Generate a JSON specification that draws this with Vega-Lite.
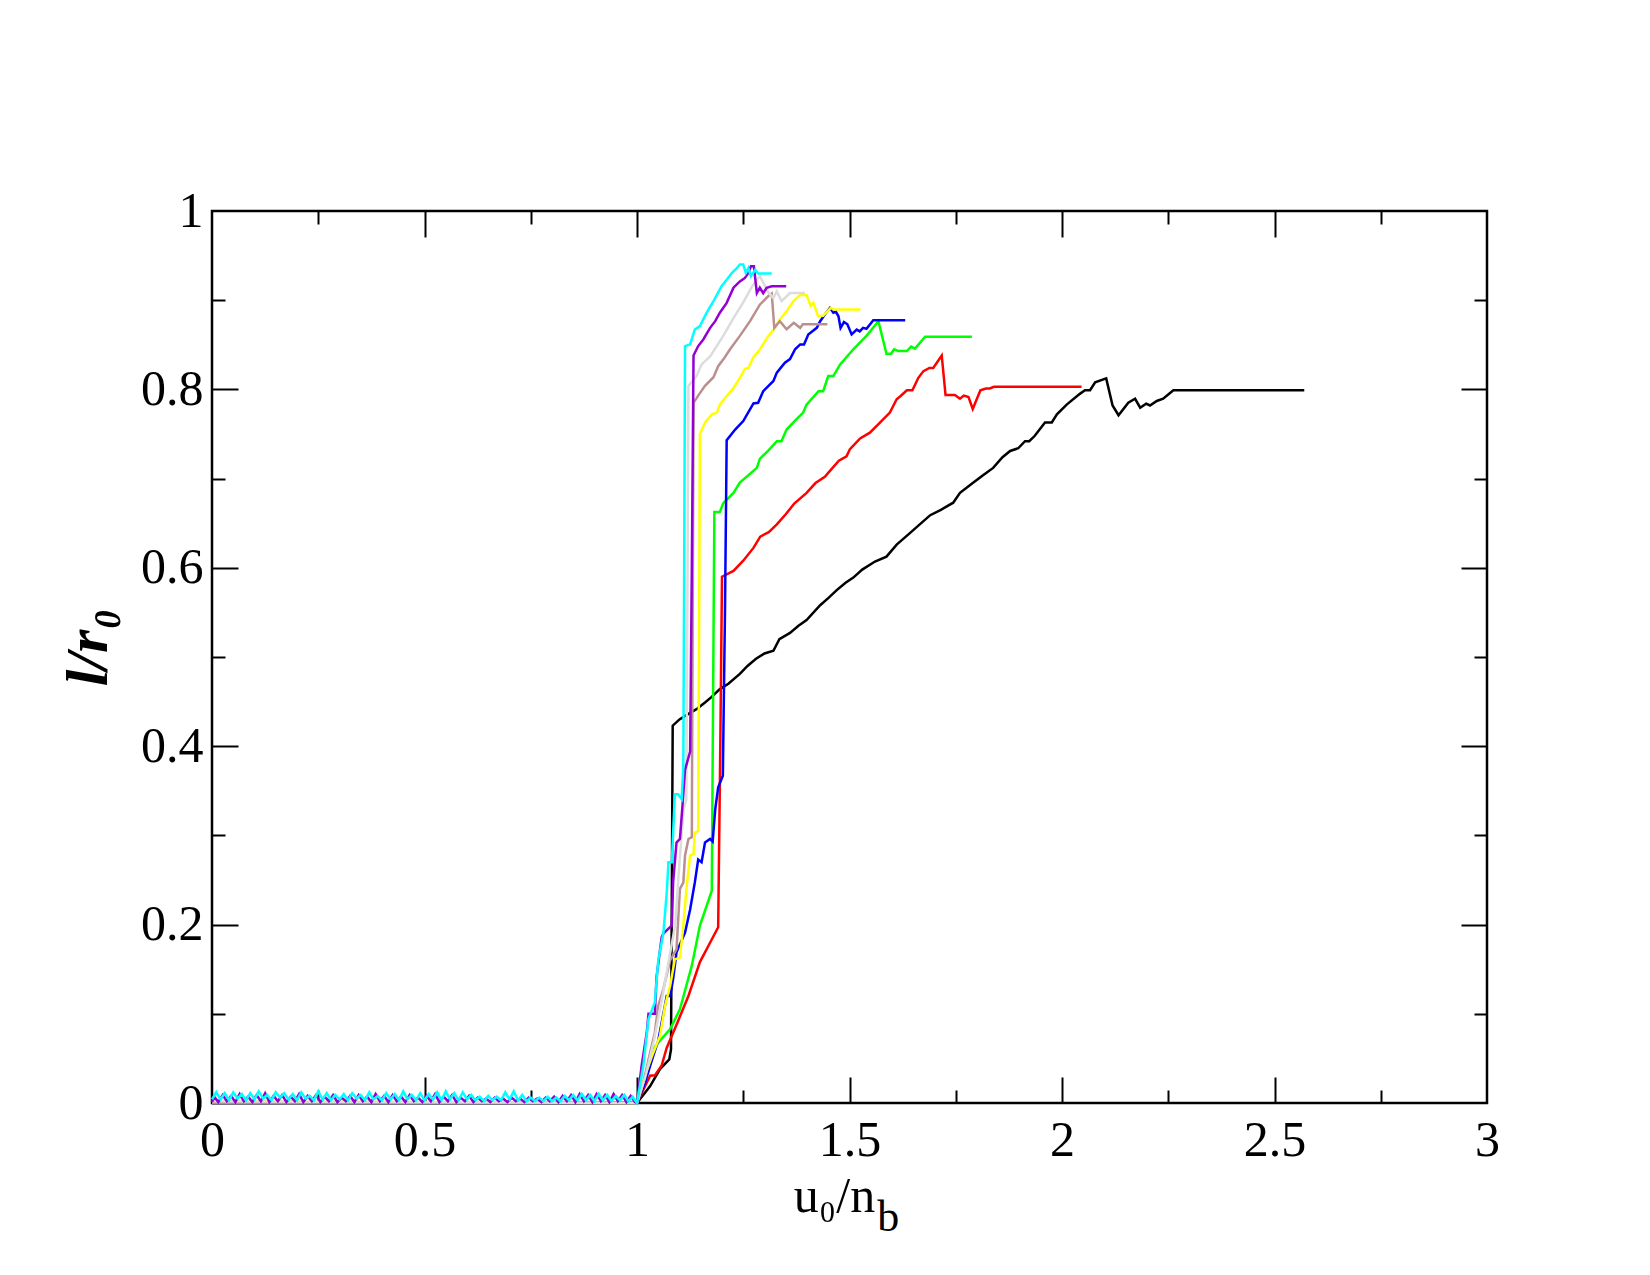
{
  "$schema": "https://vega.github.io/schema/vega-lite/v6.json",
  "width": 1275,
  "height": 892,
  "autosize": {"type": "none"},
  "padding": {"left": 212, "top": 211, "right": 163, "bottom": 172},
  "background": "white",
  "config": {
    "view": {"stroke": "black", "strokeWidth": 2.5},
    "axis": {"grid": false, "domain": false, "labelFont": "Liberation Serif", "titleFont": "Liberation Serif", "labelColor": "black", "titleColor": "black", "tickColor": "black"}
  },
  "datasets": {
    "pt": [{"x": 0, "y": 0}],
    "lines": [
      {"s":"s1","x":0,"y":0},{"s":"s1","x":1.0,"y":0},{"s":"s1","x":1.031,"y":0.019},{"s":"s1","x":1.054,"y":0.038},{"s":"s1","x":1.076,"y":0.049},{"s":"s1","x":1.08,"y":0.06},{"s":"s1","x":1.084,"y":0.423},{"s":"s1","x":1.10,"y":0.43},{"s":"s1","x":1.12,"y":0.436},{"s":"s1","x":1.14,"y":0.4415},{"s":"s1","x":1.16,"y":0.449},{"s":"s1","x":1.175,"y":0.455},{"s":"s1","x":1.195,"y":0.464},{"s":"s1","x":1.215,"y":0.47},{"s":"s1","x":1.242,"y":0.481},{"s":"s1","x":1.26,"y":0.49},{"s":"s1","x":1.28,"y":0.498},{"s":"s1","x":1.30,"y":0.504},{"s":"s1","x":1.321,"y":0.507},{"s":"s1","x":1.335,"y":0.52},{"s":"s1","x":1.36,"y":0.527},{"s":"s1","x":1.38,"y":0.535},{"s":"s1","x":1.399,"y":0.5415},{"s":"s1","x":1.431,"y":0.558},{"s":"s1","x":1.45,"y":0.566},{"s":"s1","x":1.47,"y":0.575},{"s":"s1","x":1.49,"y":0.583},{"s":"s1","x":1.509,"y":0.589},{"s":"s1","x":1.53,"y":0.598},{"s":"s1","x":1.56,"y":0.607},{"s":"s1","x":1.587,"y":0.6125},{"s":"s1","x":1.611,"y":0.626},{"s":"s1","x":1.64,"y":0.638},{"s":"s1","x":1.666,"y":0.649},{"s":"s1","x":1.69,"y":0.659},{"s":"s1","x":1.715,"y":0.665},{"s":"s1","x":1.744,"y":0.673},{"s":"s1","x":1.76,"y":0.684},{"s":"s1","x":1.79,"y":0.695},{"s":"s1","x":1.815,"y":0.704},{"s":"s1","x":1.838,"y":0.712},{"s":"s1","x":1.86,"y":0.724},{"s":"s1","x":1.878,"y":0.731},{"s":"s1","x":1.897,"y":0.734},{"s":"s1","x":1.913,"y":0.742},{"s":"s1","x":1.923,"y":0.742},{"s":"s1","x":1.936,"y":0.748},{"s":"s1","x":1.96,"y":0.763},{"s":"s1","x":1.976,"y":0.763},{"s":"s1","x":1.988,"y":0.772},{"s":"s1","x":2.011,"y":0.783},{"s":"s1","x":2.042,"y":0.795},{"s":"s1","x":2.054,"y":0.799},{"s":"s1","x":2.066,"y":0.799},{"s":"s1","x":2.078,"y":0.808},{"s":"s1","x":2.104,"y":0.8123},{"s":"s1","x":2.119,"y":0.782},{"s":"s1","x":2.133,"y":0.771},{"s":"s1","x":2.156,"y":0.785},{"s":"s1","x":2.172,"y":0.7895},{"s":"s1","x":2.184,"y":0.7795},{"s":"s1","x":2.198,"y":0.784},{"s":"s1","x":2.207,"y":0.782},{"s":"s1","x":2.223,"y":0.787},{"s":"s1","x":2.238,"y":0.7895},{"s":"s1","x":2.262,"y":0.799},{"s":"s1","x":2.57,"y":0.799},

      {"s":"s2","x":0,"y":0},{"s":"s2","x":1.0,"y":0},{"s":"s2","x":1.02,"y":0.02},{"s":"s2","x":1.031,"y":0.0306},{"s":"s2","x":1.042,"y":0.031},{"s":"s2","x":1.058,"y":0.042},{"s":"s2","x":1.07,"y":0.062},{"s":"s2","x":1.095,"y":0.09},{"s":"s2","x":1.121,"y":0.12},{"s":"s2","x":1.148,"y":0.158},{"s":"s2","x":1.17,"y":0.178},{"s":"s2","x":1.191,"y":0.197},{"s":"s2","x":1.196,"y":0.4},{"s":"s2","x":1.2,"y":0.59},{"s":"s2","x":1.227,"y":0.5965},{"s":"s2","x":1.25,"y":0.608},{"s":"s2","x":1.274,"y":0.6223},{"s":"s2","x":1.29,"y":0.635},{"s":"s2","x":1.31,"y":0.64},{"s":"s2","x":1.329,"y":0.6487},{"s":"s2","x":1.35,"y":0.66},{"s":"s2","x":1.37,"y":0.672},{"s":"s2","x":1.399,"y":0.684},{"s":"s2","x":1.42,"y":0.695},{"s":"s2","x":1.442,"y":0.702},{"s":"s2","x":1.454,"y":0.7086},{"s":"s2","x":1.475,"y":0.72},{"s":"s2","x":1.493,"y":0.725},{"s":"s2","x":1.501,"y":0.733},{"s":"s2","x":1.525,"y":0.745},{"s":"s2","x":1.548,"y":0.7515},{"s":"s2","x":1.57,"y":0.762},{"s":"s2","x":1.595,"y":0.774},{"s":"s2","x":1.611,"y":0.789},{"s":"s2","x":1.619,"y":0.792},{"s":"s2","x":1.635,"y":0.799},{"s":"s2","x":1.648,"y":0.799},{"s":"s2","x":1.662,"y":0.813},{"s":"s2","x":1.674,"y":0.8205},{"s":"s2","x":1.688,"y":0.824},{"s":"s2","x":1.697,"y":0.824},{"s":"s2","x":1.717,"y":0.838},{"s":"s2","x":1.726,"y":0.7936},{"s":"s2","x":1.748,"y":0.7936},{"s":"s2","x":1.76,"y":0.7895},{"s":"s2","x":1.769,"y":0.793},{"s":"s2","x":1.78,"y":0.7915},{"s":"s2","x":1.79,"y":0.778},{"s":"s2","x":1.808,"y":0.799},{"s":"s2","x":1.821,"y":0.801},{"s":"s2","x":1.83,"y":0.801},{"s":"s2","x":1.84,"y":0.803},{"s":"s2","x":2.046,"y":0.803},

      {"s":"s3","x":0,"y":0},{"s":"s3","x":1.0,"y":0},{"s":"s3","x":1.015,"y":0.023},{"s":"s3","x":1.038,"y":0.0605},{"s":"s3","x":1.058,"y":0.072},{"s":"s3","x":1.078,"y":0.083},{"s":"s3","x":1.101,"y":0.105},{"s":"s3","x":1.129,"y":0.154},{"s":"s3","x":1.148,"y":0.199},{"s":"s3","x":1.176,"y":0.238},{"s":"s3","x":1.179,"y":0.45},{"s":"s3","x":1.182,"y":0.6626},{"s":"s3","x":1.195,"y":0.6626},{"s":"s3","x":1.203,"y":0.6725},{"s":"s3","x":1.227,"y":0.684},{"s":"s3","x":1.242,"y":0.6955},{"s":"s3","x":1.265,"y":0.705},{"s":"s3","x":1.282,"y":0.712},{"s":"s3","x":1.289,"y":0.722},{"s":"s3","x":1.31,"y":0.732},{"s":"s3","x":1.329,"y":0.742},{"s":"s3","x":1.34,"y":0.742},{"s":"s3","x":1.352,"y":0.755},{"s":"s3","x":1.372,"y":0.765},{"s":"s3","x":1.391,"y":0.774},{"s":"s3","x":1.399,"y":0.783},{"s":"s3","x":1.427,"y":0.798},{"s":"s3","x":1.438,"y":0.798},{"s":"s3","x":1.45,"y":0.815},{"s":"s3","x":1.462,"y":0.815},{"s":"s3","x":1.478,"y":0.828},{"s":"s3","x":1.509,"y":0.845},{"s":"s3","x":1.54,"y":0.86},{"s":"s3","x":1.568,"y":0.8765},{"s":"s3","x":1.587,"y":0.84},{"s":"s3","x":1.598,"y":0.84},{"s":"s3","x":1.605,"y":0.845},{"s":"s3","x":1.615,"y":0.843},{"s":"s3","x":1.635,"y":0.843},{"s":"s3","x":1.645,"y":0.848},{"s":"s3","x":1.654,"y":0.8457},{"s":"s3","x":1.678,"y":0.859},{"s":"s3","x":1.788,"y":0.859},

      {"s":"s4","x":0,"y":0},{"s":"s4","x":1.0,"y":0},{"s":"s4","x":1.019,"y":0.023},{"s":"s4","x":1.031,"y":0.042},{"s":"s4","x":1.05,"y":0.07},{"s":"s4","x":1.07,"y":0.12},{"s":"s4","x":1.078,"y":0.12},{"s":"s4","x":1.085,"y":0.139},{"s":"s4","x":1.093,"y":0.169},{"s":"s4","x":1.113,"y":0.191},{"s":"s4","x":1.125,"y":0.217},{"s":"s4","x":1.136,"y":0.247},{"s":"s4","x":1.144,"y":0.273},{"s":"s4","x":1.152,"y":0.27},{"s":"s4","x":1.16,"y":0.292},{"s":"s4","x":1.172,"y":0.296},{"s":"s4","x":1.178,"y":0.293},{"s":"s4","x":1.184,"y":0.329},{"s":"s4","x":1.191,"y":0.354},{"s":"s4","x":1.202,"y":0.367},{"s":"s4","x":1.207,"y":0.55},{"s":"s4","x":1.211,"y":0.743},{"s":"s4","x":1.231,"y":0.755},{"s":"s4","x":1.25,"y":0.7645},{"s":"s4","x":1.274,"y":0.7843},{"s":"s4","x":1.285,"y":0.785},{"s":"s4","x":1.297,"y":0.798},{"s":"s4","x":1.321,"y":0.8095},{"s":"s4","x":1.329,"y":0.8188},{"s":"s4","x":1.348,"y":0.83},{"s":"s4","x":1.36,"y":0.834},{"s":"s4","x":1.372,"y":0.845},{"s":"s4","x":1.384,"y":0.8504},{"s":"s4","x":1.393,"y":0.8504},{"s":"s4","x":1.403,"y":0.8616},{"s":"s4","x":1.423,"y":0.869},{"s":"s4","x":1.431,"y":0.8765},{"s":"s4","x":1.442,"y":0.884},{"s":"s4","x":1.454,"y":0.8915},{"s":"s4","x":1.462,"y":0.886},{"s":"s4","x":1.468,"y":0.887},{"s":"s4","x":1.474,"y":0.882},{"s":"s4","x":1.479,"y":0.869},{"s":"s4","x":1.487,"y":0.8755},{"s":"s4","x":1.495,"y":0.873},{"s":"s4","x":1.505,"y":0.8616},{"s":"s4","x":1.517,"y":0.867},{"s":"s4","x":1.524,"y":0.865},{"s":"s4","x":1.532,"y":0.869},{"s":"s4","x":1.54,"y":0.868},{"s":"s4","x":1.556,"y":0.8776},{"s":"s4","x":1.631,"y":0.8776},

      {"s":"s5","x":0,"y":0.002},{"s":"s5","x":1.0,"y":0},{"s":"s5","x":1.019,"y":0.031},{"s":"s5","x":1.034,"y":0.051},{"s":"s5","x":1.054,"y":0.075},{"s":"s5","x":1.066,"y":0.109},{"s":"s5","x":1.078,"y":0.1315},{"s":"s5","x":1.089,"y":0.161},{"s":"s5","x":1.101,"y":0.163},{"s":"s5","x":1.109,"y":0.199},{"s":"s5","x":1.117,"y":0.2435},{"s":"s5","x":1.125,"y":0.2775},{"s":"s5","x":1.133,"y":0.279},{"s":"s5","x":1.136,"y":0.303},{"s":"s5","x":1.144,"y":0.305},{"s":"s5","x":1.146,"y":0.5},{"s":"s5","x":1.148,"y":0.7496},{"s":"s5","x":1.16,"y":0.7627},{"s":"s5","x":1.176,"y":0.772},{"s":"s5","x":1.188,"y":0.774},{"s":"s5","x":1.195,"y":0.783},{"s":"s5","x":1.211,"y":0.7925},{"s":"s5","x":1.225,"y":0.80},{"s":"s5","x":1.242,"y":0.813},{"s":"s5","x":1.254,"y":0.823},{"s":"s5","x":1.262,"y":0.824},{"s":"s5","x":1.274,"y":0.836},{"s":"s5","x":1.289,"y":0.8448},{"s":"s5","x":1.309,"y":0.86},{"s":"s5","x":1.325,"y":0.869},{"s":"s5","x":1.336,"y":0.878},{"s":"s5","x":1.352,"y":0.8877},{"s":"s5","x":1.368,"y":0.899},{"s":"s5","x":1.384,"y":0.9057},{"s":"s5","x":1.399,"y":0.9057},{"s":"s5","x":1.409,"y":0.8935},{"s":"s5","x":1.415,"y":0.897},{"s":"s5","x":1.426,"y":0.882},{"s":"s5","x":1.438,"y":0.8826},{"s":"s5","x":1.456,"y":0.8915},{"s":"s5","x":1.462,"y":0.8896},{"s":"s5","x":1.526,"y":0.8896},

      {"s":"s6","x":0,"y":0},{"s":"s6","x":1.0,"y":0},{"s":"s6","x":1.015,"y":0.023},{"s":"s6","x":1.031,"y":0.057},{"s":"s6","x":1.042,"y":0.079},{"s":"s6","x":1.05,"y":0.109},{"s":"s6","x":1.062,"y":0.1277},{"s":"s6","x":1.078,"y":0.16},{"s":"s6","x":1.093,"y":0.1725},{"s":"s6","x":1.101,"y":0.24},{"s":"s6","x":1.109,"y":0.247},{"s":"s6","x":1.113,"y":0.2775},{"s":"s6","x":1.121,"y":0.296},{"s":"s6","x":1.129,"y":0.298},{"s":"s6","x":1.131,"y":0.55},{"s":"s6","x":1.133,"y":0.785},{"s":"s6","x":1.144,"y":0.793},{"s":"s6","x":1.16,"y":0.804},{"s":"s6","x":1.18,"y":0.8137},{"s":"s6","x":1.191,"y":0.826},{"s":"s6","x":1.205,"y":0.835},{"s":"s6","x":1.219,"y":0.845},{"s":"s6","x":1.242,"y":0.86},{"s":"s6","x":1.266,"y":0.8765},{"s":"s6","x":1.289,"y":0.895},{"s":"s6","x":1.309,"y":0.9047},{"s":"s6","x":1.317,"y":0.9075},{"s":"s6","x":1.323,"y":0.869},{"s":"s6","x":1.336,"y":0.8765},{"s":"s6","x":1.352,"y":0.8675},{"s":"s6","x":1.369,"y":0.8747},{"s":"s6","x":1.384,"y":0.869},{"s":"s6","x":1.39,"y":0.873},{"s":"s6","x":1.448,"y":0.873},

      {"s":"s7","x":0,"y":0.002},{"s":"s7","x":1.0,"y":0},{"s":"s7","x":1.02,"y":0.03},{"s":"s7","x":1.04,"y":0.07},{"s":"s7","x":1.06,"y":0.12},{"s":"s7","x":1.075,"y":0.16},{"s":"s7","x":1.09,"y":0.2},{"s":"s7","x":1.1,"y":0.27},{"s":"s7","x":1.11,"y":0.33},{"s":"s7","x":1.116,"y":0.34},{"s":"s7","x":1.119,"y":0.6},{"s":"s7","x":1.121,"y":0.804},{"s":"s7","x":1.14,"y":0.815},{"s":"s7","x":1.152,"y":0.828},{"s":"s7","x":1.172,"y":0.837},{"s":"s7","x":1.203,"y":0.86},{"s":"s7","x":1.227,"y":0.88},{"s":"s7","x":1.25,"y":0.8976},{"s":"s7","x":1.27,"y":0.915},{"s":"s7","x":1.289,"y":0.927},{"s":"s7","x":1.297,"y":0.9195},{"s":"s7","x":1.309,"y":0.9087},{"s":"s7","x":1.321,"y":0.9025},{"s":"s7","x":1.329,"y":0.91},{"s":"s7","x":1.34,"y":0.899},{"s":"s7","x":1.36,"y":0.908},{"s":"s7","x":1.395,"y":0.908},

      {"s":"s8","x":0,"y":0.001},{"s":"s8","x":0.005,"y":0.007},{"s":"s8","x":0.015,"y":0.001},{"s":"s8","x":0.025,"y":0.009},{"s":"s8","x":0.035,"y":0.002},{"s":"s8","x":0.045,"y":0.008},{"s":"s8","x":0.055,"y":0.001},{"s":"s8","x":0.065,"y":0.010},{"s":"s8","x":0.075,"y":0.002},{"s":"s8","x":0.085,"y":0.007},{"s":"s8","x":0.095,"y":0.001},{"s":"s8","x":0.105,"y":0.009},{"s":"s8","x":0.115,"y":0.002},{"s":"s8","x":0.125,"y":0.011},{"s":"s8","x":0.135,"y":0.001},{"s":"s8","x":0.145,"y":0.008},{"s":"s8","x":0.155,"y":0.002},{"s":"s8","x":0.165,"y":0.009},{"s":"s8","x":0.175,"y":0.001},{"s":"s8","x":0.185,"y":0.007},{"s":"s8","x":0.195,"y":0.002},{"s":"s8","x":0.205,"y":0.010},{"s":"s8","x":0.215,"y":0.001},{"s":"s8","x":0.225,"y":0.008},{"s":"s8","x":0.235,"y":0.002},{"s":"s8","x":0.245,"y":0.009},{"s":"s8","x":0.255,"y":0.001},{"s":"s8","x":0.265,"y":0.007},{"s":"s8","x":0.275,"y":0.002},{"s":"s8","x":0.285,"y":0.009},{"s":"s8","x":0.295,"y":0.001},{"s":"s8","x":0.305,"y":0.006},{"s":"s8","x":0.315,"y":0.002},{"s":"s8","x":0.325,"y":0.008},{"s":"s8","x":0.335,"y":0.001},{"s":"s8","x":0.345,"y":0.009},{"s":"s8","x":0.355,"y":0.002},{"s":"s8","x":0.365,"y":0.007},{"s":"s8","x":0.375,"y":0.001},{"s":"s8","x":0.385,"y":0.010},{"s":"s8","x":0.395,"y":0.002},{"s":"s8","x":0.405,"y":0.008},{"s":"s8","x":0.415,"y":0.001},{"s":"s8","x":0.425,"y":0.009},{"s":"s8","x":0.435,"y":0.002},{"s":"s8","x":0.445,"y":0.007},{"s":"s8","x":0.455,"y":0.001},{"s":"s8","x":0.465,"y":0.009},{"s":"s8","x":0.475,"y":0.002},{"s":"s8","x":0.485,"y":0.006},{"s":"s8","x":0.495,"y":0.001},{"s":"s8","x":0.505,"y":0.008},{"s":"s8","x":0.515,"y":0.002},{"s":"s8","x":0.525,"y":0.010},{"s":"s8","x":0.535,"y":0.001},{"s":"s8","x":0.545,"y":0.007},{"s":"s8","x":0.555,"y":0.002},{"s":"s8","x":0.565,"y":0.009},{"s":"s8","x":0.575,"y":0.001},{"s":"s8","x":0.585,"y":0.006},{"s":"s8","x":0.595,"y":0.002},{"s":"s8","x":0.605,"y":0.008},{"s":"s8","x":0.615,"y":0.001},{"s":"s8","x":0.625,"y":0.006},{"s":"s8","x":0.635,"y":0.002},{"s":"s8","x":0.645,"y":0.005},{"s":"s8","x":0.655,"y":0.001},{"s":"s8","x":0.665,"y":0.006},{"s":"s8","x":0.675,"y":0.002},{"s":"s8","x":0.685,"y":0.005},{"s":"s8","x":0.695,"y":0.001},{"s":"s8","x":0.705,"y":0.006},{"s":"s8","x":0.715,"y":0.002},{"s":"s8","x":0.725,"y":0.005},{"s":"s8","x":0.735,"y":0.001},{"s":"s8","x":0.745,"y":0.006},{"s":"s8","x":0.755,"y":0.002},{"s":"s8","x":0.765,"y":0.005},{"s":"s8","x":0.775,"y":0.001},{"s":"s8","x":0.785,"y":0.006},{"s":"s8","x":0.795,"y":0.002},{"s":"s8","x":0.805,"y":0.007},{"s":"s8","x":0.815,"y":0.001},{"s":"s8","x":0.825,"y":0.008},{"s":"s8","x":0.835,"y":0.002},{"s":"s8","x":0.845,"y":0.009},{"s":"s8","x":0.855,"y":0.001},{"s":"s8","x":0.865,"y":0.010},{"s":"s8","x":0.875,"y":0.002},{"s":"s8","x":0.885,"y":0.009},{"s":"s8","x":0.895,"y":0.001},{"s":"s8","x":0.905,"y":0.010},{"s":"s8","x":0.915,"y":0.002},{"s":"s8","x":0.925,"y":0.009},{"s":"s8","x":0.935,"y":0.001},{"s":"s8","x":0.945,"y":0.010},{"s":"s8","x":0.955,"y":0.002},{"s":"s8","x":0.965,"y":0.009},{"s":"s8","x":0.975,"y":0.001},{"s":"s8","x":0.985,"y":0.008},{"s":"s8","x":0.995,"y":0.001},
      {"s":"s8","x":1.0,"y":0},{"s":"s8","x":1.011,"y":0.042},{"s":"s8","x":1.023,"y":0.079},{"s":"s8","x":1.027,"y":0.1},{"s":"s8","x":1.042,"y":0.1},{"s":"s8","x":1.046,"y":0.141},{"s":"s8","x":1.058,"y":0.1857},{"s":"s8","x":1.062,"y":0.19},{"s":"s8","x":1.082,"y":0.199},{"s":"s8","x":1.085,"y":0.2477},{"s":"s8","x":1.093,"y":0.292},{"s":"s8","x":1.101,"y":0.296},{"s":"s8","x":1.107,"y":0.333},{"s":"s8","x":1.113,"y":0.3735},{"s":"s8","x":1.125,"y":0.394},{"s":"s8","x":1.129,"y":0.6},{"s":"s8","x":1.133,"y":0.838},{"s":"s8","x":1.144,"y":0.8486},{"s":"s8","x":1.156,"y":0.856},{"s":"s8","x":1.172,"y":0.869},{"s":"s8","x":1.184,"y":0.8765},{"s":"s8","x":1.195,"y":0.886},{"s":"s8","x":1.211,"y":0.897},{"s":"s8","x":1.227,"y":0.914},{"s":"s8","x":1.242,"y":0.921},{"s":"s8","x":1.254,"y":0.925},{"s":"s8","x":1.262,"y":0.9305},{"s":"s8","x":1.268,"y":0.938},{"s":"s8","x":1.275,"y":0.938},{"s":"s8","x":1.282,"y":0.908},{"s":"s8","x":1.289,"y":0.914},{"s":"s8","x":1.297,"y":0.908},{"s":"s8","x":1.305,"y":0.914},{"s":"s8","x":1.317,"y":0.9157},{"s":"s8","x":1.351,"y":0.9157},

      {"s":"s9","x":0,"y":0.004},{"s":"s9","x":0.01,"y":0.012},{"s":"s9","x":0.02,"y":0.004},{"s":"s9","x":0.03,"y":0.011},{"s":"s9","x":0.04,"y":0.003},{"s":"s9","x":0.05,"y":0.012},{"s":"s9","x":0.06,"y":0.005},{"s":"s9","x":0.07,"y":0.010},{"s":"s9","x":0.08,"y":0.003},{"s":"s9","x":0.09,"y":0.011},{"s":"s9","x":0.10,"y":0.004},{"s":"s9","x":0.11,"y":0.013},{"s":"s9","x":0.12,"y":0.005},{"s":"s9","x":0.13,"y":0.009},{"s":"s9","x":0.14,"y":0.003},{"s":"s9","x":0.15,"y":0.012},{"s":"s9","x":0.16,"y":0.006},{"s":"s9","x":0.17,"y":0.011},{"s":"s9","x":0.18,"y":0.004},{"s":"s9","x":0.19,"y":0.010},{"s":"s9","x":0.20,"y":0.003},{"s":"s9","x":0.21,"y":0.012},{"s":"s9","x":0.22,"y":0.005},{"s":"s9","x":0.23,"y":0.008},{"s":"s9","x":0.24,"y":0.003},{"s":"s9","x":0.25,"y":0.013},{"s":"s9","x":0.26,"y":0.004},{"s":"s9","x":0.27,"y":0.011},{"s":"s9","x":0.28,"y":0.003},{"s":"s9","x":0.29,"y":0.009},{"s":"s9","x":0.30,"y":0.004},{"s":"s9","x":0.31,"y":0.010},{"s":"s9","x":0.32,"y":0.003},{"s":"s9","x":0.33,"y":0.011},{"s":"s9","x":0.34,"y":0.005},{"s":"s9","x":0.35,"y":0.009},{"s":"s9","x":0.36,"y":0.003},{"s":"s9","x":0.37,"y":0.012},{"s":"s9","x":0.38,"y":0.004},{"s":"s9","x":0.39,"y":0.008},{"s":"s9","x":0.40,"y":0.003},{"s":"s9","x":0.41,"y":0.011},{"s":"s9","x":0.42,"y":0.004},{"s":"s9","x":0.43,"y":0.010},{"s":"s9","x":0.44,"y":0.003},{"s":"s9","x":0.45,"y":0.013},{"s":"s9","x":0.46,"y":0.004},{"s":"s9","x":0.47,"y":0.009},{"s":"s9","x":0.48,"y":0.003},{"s":"s9","x":0.49,"y":0.011},{"s":"s9","x":0.50,"y":0.003},{"s":"s9","x":0.51,"y":0.010},{"s":"s9","x":0.52,"y":0.004},{"s":"s9","x":0.53,"y":0.012},{"s":"s9","x":0.54,"y":0.003},{"s":"s9","x":0.55,"y":0.013},{"s":"s9","x":0.56,"y":0.004},{"s":"s9","x":0.57,"y":0.011},{"s":"s9","x":0.58,"y":0.003},{"s":"s9","x":0.59,"y":0.012},{"s":"s9","x":0.60,"y":0.004},{"s":"s9","x":0.61,"y":0.009},{"s":"s9","x":0.62,"y":0.003},{"s":"s9","x":0.63,"y":0.007},{"s":"s9","x":0.64,"y":0.002},{"s":"s9","x":0.65,"y":0.008},{"s":"s9","x":0.66,"y":0.003},{"s":"s9","x":0.67,"y":0.007},{"s":"s9","x":0.68,"y":0.003},{"s":"s9","x":0.69,"y":0.012},{"s":"s9","x":0.70,"y":0.004},{"s":"s9","x":0.71,"y":0.013},{"s":"s9","x":0.72,"y":0.003},{"s":"s9","x":0.73,"y":0.009},{"s":"s9","x":0.74,"y":0.002},{"s":"s9","x":0.75,"y":0.006},{"s":"s9","x":0.76,"y":0.002},{"s":"s9","x":0.77,"y":0.006},{"s":"s9","x":0.78,"y":0.002},{"s":"s9","x":0.79,"y":0.007},{"s":"s9","x":0.80,"y":0.002},{"s":"s9","x":0.81,"y":0.006},{"s":"s9","x":0.82,"y":0.002},{"s":"s9","x":0.83,"y":0.008},{"s":"s9","x":0.84,"y":0.003},{"s":"s9","x":0.85,"y":0.009},{"s":"s9","x":0.86,"y":0.003},{"s":"s9","x":0.87,"y":0.010},{"s":"s9","x":0.88,"y":0.003},{"s":"s9","x":0.89,"y":0.009},{"s":"s9","x":0.90,"y":0.002},{"s":"s9","x":0.91,"y":0.010},{"s":"s9","x":0.92,"y":0.003},{"s":"s9","x":0.93,"y":0.009},{"s":"s9","x":0.94,"y":0.002},{"s":"s9","x":0.95,"y":0.008},{"s":"s9","x":0.96,"y":0.003},{"s":"s9","x":0.97,"y":0.009},{"s":"s9","x":0.98,"y":0.002},{"s":"s9","x":0.99,"y":0.007},
      {"s":"s9","x":1.0,"y":0},{"s":"s9","x":1.015,"y":0.042},{"s":"s9","x":1.027,"y":0.094},{"s":"s9","x":1.042,"y":0.1127},{"s":"s9","x":1.05,"y":0.16},{"s":"s9","x":1.062,"y":0.19},{"s":"s9","x":1.07,"y":0.236},{"s":"s9","x":1.074,"y":0.27},{"s":"s9","x":1.082,"y":0.27},{"s":"s9","x":1.089,"y":0.346},{"s":"s9","x":1.097,"y":0.346},{"s":"s9","x":1.105,"y":0.3406},{"s":"s9","x":1.109,"y":0.3755},{"s":"s9","x":1.111,"y":0.6},{"s":"s9","x":1.113,"y":0.8486},{"s":"s9","x":1.125,"y":0.8505},{"s":"s9","x":1.136,"y":0.867},{"s":"s9","x":1.148,"y":0.871},{"s":"s9","x":1.164,"y":0.886},{"s":"s9","x":1.18,"y":0.899},{"s":"s9","x":1.199,"y":0.9157},{"s":"s9","x":1.211,"y":0.923},{"s":"s9","x":1.223,"y":0.9305},{"s":"s9","x":1.235,"y":0.936},{"s":"s9","x":1.242,"y":0.94},{"s":"s9","x":1.25,"y":0.94},{"s":"s9","x":1.256,"y":0.9305},{"s":"s9","x":1.262,"y":0.936},{"s":"s9","x":1.268,"y":0.927},{"s":"s9","x":1.278,"y":0.934},{"s":"s9","x":1.285,"y":0.93},{"s":"s9","x":1.317,"y":0.93}
    ]
  },
  "resolve": {"axis": {"x": "independent", "y": "independent"}},
  "layer": [
    {
      "data": {"name": "lines"},
      "mark": {"type": "line", "strokeWidth": 2.5, "interpolate": "linear"},
      "encoding": {
        "x": {"field": "x", "type": "quantitative", "scale": {"domain": [0, 3], "nice": false, "zero": false},
          "axis": {"orient": "bottom", "values": [0, 0.5, 1, 1.5, 2, 2.5, 3], "format": "~g", "ticks": false, "labelPadding": 12, "labelFontSize": 50, "labelFlush": false,
            "title": "u₀/n", "titleFontSize": 50, "titleFontWeight": "normal", "titleX": 622, "titleY": 108, "titleBaseline": "alphabetic", "titleAlign": "center"}},
        "y": {"field": "y", "type": "quantitative", "scale": {"domain": [0, 1], "nice": false, "zero": false},
          "axis": {"orient": "left", "values": [0, 0.2, 0.4, 0.6, 0.8, 1], "format": "~g", "ticks": false, "labelPadding": 9, "labelFontSize": 50, "labelFlush": false,
            "title": "l/r₀", "titleFontSize": 60, "titleFontWeight": "bold", "titleFontStyle": "italic", "titleX": -106, "titleY": 436, "titleAngle": -90, "titleBaseline": "alphabetic", "titleAlign": "center"}},
        "color": {"field": "s", "type": "nominal", "legend": null,
          "scale": {"domain": ["s1","s2","s3","s4","s5","s6","s7","s8","s9"], "range": ["#000000","#ff0000","#00ff00","#0000ff","#ffff00","#bc8f8f","#dcdcdc","#9400d3","#00ffff"]}}
      }
    },
    {
      "data": {"name": "pt"},
      "mark": {"type": "point", "opacity": 0},
      "encoding": {
        "x": {"field": "x", "type": "quantitative", "scale": {"domain": [0, 3], "nice": false, "zero": false},
          "axis": {"orient": "bottom", "values": [0.5, 1, 1.5, 2, 2.5], "labels": false, "tickSize": -26, "tickWidth": 2, "title": null}},
        "y": {"field": "y", "type": "quantitative", "scale": {"domain": [0, 1], "nice": false, "zero": false},
          "axis": {"orient": "left", "values": [0.2, 0.4, 0.6, 0.8], "labels": false, "tickSize": -26, "tickWidth": 2, "title": null}}
      }
    },
    {
      "data": {"name": "pt"},
      "mark": {"type": "point", "opacity": 0},
      "encoding": {
        "x": {"field": "x", "type": "quantitative", "scale": {"domain": [0, 3], "nice": false, "zero": false},
          "axis": {"orient": "bottom", "values": [0.25, 0.75, 1.25, 1.75, 2.25, 2.75], "labels": false, "tickSize": -13, "tickWidth": 2, "title": null}},
        "y": {"field": "y", "type": "quantitative", "scale": {"domain": [0, 1], "nice": false, "zero": false},
          "axis": {"orient": "left", "values": [0.1, 0.3, 0.5, 0.7, 0.9], "labels": false, "tickSize": -13, "tickWidth": 2, "title": null}}
      }
    },
    {
      "data": {"name": "pt"},
      "mark": {"type": "point", "opacity": 0},
      "encoding": {
        "x": {"field": "x", "type": "quantitative", "scale": {"domain": [0, 3], "nice": false, "zero": false},
          "axis": {"orient": "top", "values": [0.5, 1, 1.5, 2, 2.5], "labels": false, "tickSize": -26, "tickWidth": 2, "title": null}},
        "y": {"field": "y", "type": "quantitative", "scale": {"domain": [0, 1], "nice": false, "zero": false},
          "axis": {"orient": "right", "values": [0.2, 0.4, 0.6, 0.8], "labels": false, "tickSize": -26, "tickWidth": 2, "title": null}}
      }
    },
    {
      "data": {"name": "pt"},
      "mark": {"type": "point", "opacity": 0},
      "encoding": {
        "x": {"field": "x", "type": "quantitative", "scale": {"domain": [0, 3], "nice": false, "zero": false},
          "axis": {"orient": "top", "values": [0.25, 0.75, 1.25, 1.75, 2.25, 2.75], "labels": false, "tickSize": -13, "tickWidth": 2, "title": null}},
        "y": {"field": "y", "type": "quantitative", "scale": {"domain": [0, 1], "nice": false, "zero": false},
          "axis": {"orient": "right", "values": [0.1, 0.3, 0.5, 0.7, 0.9], "labels": false, "tickSize": -13, "tickWidth": 2, "title": null}}
      }
    },
    {
      "data": {"name": "pt"},
      "mark": {"type": "text", "text": "b", "font": "Liberation Serif", "fontSize": 44, "align": "left", "baseline": "alphabetic", "color": "black"},
      "encoding": {
        "x": {"datum": 1.565, "type": "quantitative", "axis": null},
        "y": {"datum": -0.143, "type": "quantitative", "axis": null}
      }
    }
  ]
}
